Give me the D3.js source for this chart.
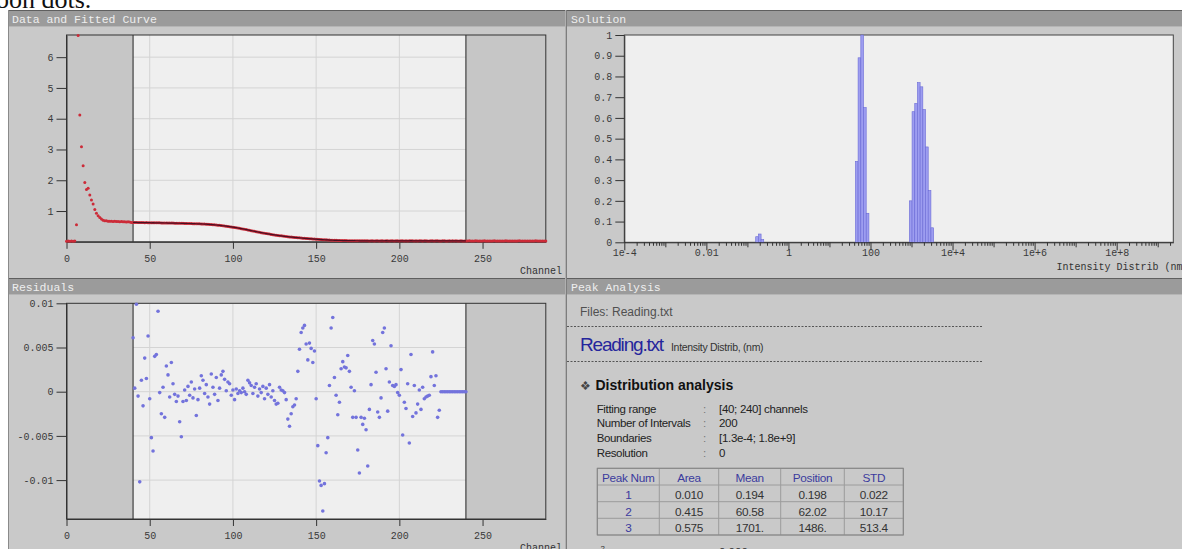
<!DOCTYPE html>
<html><head><meta charset="utf-8">
<script src="https://cdn.jsdelivr.net/npm/d3@7"></script>
<style>body{margin:0;background:#fff;overflow:hidden}svg{display:block}</style>
</head><body>
<svg id="c" width="1182" height="549"></svg>
<script>
// ---------------- DATA ----------------
// Intensity per channel 0..288 (Data and Fitted Curve)
const intensity = [
0.02,0.03,0.02,0.03,0.02,0.03,0.55,6.70,4.12,3.09,
2.47,1.93,1.70,1.74,1.52,1.36,1.23,1.05,0.93,0.85,
0.79,0.74,0.70,0.68,0.68,0.67,0.67,0.67,0.66,0.67,
0.66,0.66,0.65,0.66,0.65,0.65,0.64,0.65,0.64,0.63,
0.630,0.628,0.631,0.625,0.627,0.624,0.626,0.622,0.624,0.620,
0.621,0.618,0.620,0.617,0.618,0.615,0.616,0.613,0.614,0.611,
0.612,0.609,0.610,0.607,0.607,0.605,0.605,0.603,0.603,0.600,
0.600,0.598,0.597,0.595,0.594,0.592,0.590,0.589,0.587,0.585,
0.583,0.580,0.578,0.575,0.572,0.568,0.565,0.560,0.556,0.551,
0.546,0.540,0.534,0.528,0.522,0.515,0.508,0.500,0.492,0.484,
0.476,0.467,0.458,0.448,0.438,0.428,0.418,0.407,0.396,0.385,
0.374,0.363,0.352,0.341,0.330,0.319,0.308,0.298,0.288,0.278,
0.268,0.259,0.250,0.241,0.232,0.224,0.216,0.208,0.200,0.193,
0.186,0.179,0.173,0.166,0.160,0.154,0.149,0.143,0.138,0.133,
0.128,0.123,0.118,0.113,0.109,0.104,0.100,0.096,0.092,0.088,
0.084,0.080,0.076,0.073,0.069,0.066,0.063,0.060,0.057,0.054,
0.051,0.049,0.047,0.045,0.044,0.042,0.041,0.040,0.039,0.038,
0.037,0.036,0.036,0.035,0.034,0.034,0.033,0.033,0.032,0.032,
0.031,0.033,0.030,0.032,0.031,0.029,0.034,0.031,0.030,0.033,
0.031,0.030,0.035,0.032,0.029,0.031,0.033,0.030,0.032,0.031,
0.030,0.034,0.031,0.029,0.033,0.030,0.032,0.035,0.031,0.030,
0.032,0.029,0.031,0.034,0.030,0.031,0.033,0.030,0.029,0.032,
0.031,0.030,0.033,0.031,0.029,0.030,0.032,0.031,0.030,0.029,
0.031,0.030,0.032,0.029,0.031,0.030,0.029,0.031,0.030,0.030,
0.030,0.029,0.031,0.030,0.028,0.030,0.031,0.029,0.030,0.029,
0.030,0.031,0.029,0.030,0.028,0.030,0.029,0.031,0.030,0.029,
0.030,0.028,0.030,0.029,0.031,0.030,0.029,0.030,0.028,0.030,
0.029,0.030,0.031,0.029,0.030,0.028,0.030,0.029,0.030,0.029,
0.030,0.029,0.031,0.030,0.029,0.030,0.028,0.030,0.029];
const fitRange = [40, 240];
// Residuals for channels 40..240
const residualStart = 40;
const residuals = [
0.0061,0.0004,0.0099,-0.0005,-0.0102,0.0013,-0.0016,0.0038,0.0015,0.0063,
-0.0008,-0.0052,-0.0067,0.0040,0.0042,0.0091,-0.0001,-0.0025,0.0005,-0.0029,
0.0029,0.0019,-0.0006,0.0033,0.0009,-0.0003,-0.0011,-0.0005,-0.0034,-0.0051,
-0.0011,0.0002,-0.0010,0.0006,-0.0004,0.0011,-0.0007,0.0003,-0.0027,-0.0009,
0.0004,0.0018,0.0013,-0.0002,0.0008,-0.0006,-0.0014,0.0020,0.0005,-0.0003,
0.0016,-0.0010,0.0004,0.0019,0.0023,0.0014,0.0001,0.0011,0.0009,-0.0004,
0.0002,-0.0009,0.0003,-0.0002,0.0001,-0.0001,0.0004,0.0000,-0.0003,0.0013,
0.0010,0.0007,-0.0002,0.0005,0.0009,-0.0005,0.0003,-0.0001,0.0006,-0.0008,
0.0004,-0.0003,0.0008,-0.0006,0.0001,-0.0010,-0.0014,-0.0013,0.0005,0.0002,
0.0001,-0.0001,-0.0009,-0.0031,-0.0039,-0.0025,-0.0017,-0.0015,-0.0008,0.0023,
0.0048,0.0067,0.0072,0.0075,0.0054,0.0036,0.0055,0.0049,0.0033,0.0046,
-0.0008,-0.0061,-0.0101,-0.0106,-0.0135,-0.0104,-0.0069,-0.0052,0.0007,0.0072,
0.0084,0.0016,-0.0004,-0.0026,-0.0012,0.0026,0.0034,0.0028,0.0027,0.0041,
0.0023,0.0005,-0.0029,0.0001,-0.0029,-0.0066,-0.0092,-0.0029,-0.0037,-0.0030,
-0.0043,-0.0084,-0.0020,0.0008,0.0058,0.0054,0.0022,-0.0023,-0.0029,-0.0007,
0.0067,0.0072,0.0026,-0.0022,0.0011,0.0052,0.0007,0.0006,0.0008,-0.0001,
-0.0004,0.0025,-0.0049,-0.0012,-0.0019,0.0009,-0.0058,0.0042,-0.0028,0.0007,
-0.0024,-0.0014,0.0002,-0.0020,0.0005,-0.0008,-0.0006,-0.0005,-0.0004,0.0017,
0.0045,0.0007,0.0018,-0.0029,-0.0021,0,0,0,0,0,
0,0,0,0,0,0,0,0,0,0,
0];
// Solution (intensity distribution) bars: size (nm) and value
const solSize  = [0.172,0.200,0.232, 46.3,53.8,62.7,72.9,84.9, 955,1112,1294,1503,1750,2037,2366,2754,3206];
const solValue = [0.027,0.040,0.013, 0.39,0.89,1.00,0.65,0.14, 0.20,0.63,0.67,0.77,0.75,0.64,0.46,0.25,0.07];
const binLogWidth = 0.0657;

const channelTicks = [0,50,100,150,200,250];
const dataYTicks = [1,2,3,4,5,6];
const residYTicks = [0.01,0.005,0,-0.005,-0.01];
const residYLabels = ["0.01","0.005","0","-0.005","-0.01"];
const solYTicks = [0,0.1,0.2,0.3,0.4,0.5,0.6,0.7,0.8,0.9,1];
const solXTicks = [1e-4,1e-2,1,1e2,1e4,1e6,1e8];
const solXLabels = ["1e-4","0.01","1","100","1e+4","1e+6","1e+8"];

const paramLabels = ["Fitting range","Number of Intervals","Boundaries","Resolution"];
const paramValues = ["[40; 240] channels","200","[1.3e-4; 1.8e+9]","0"];
const tableHeader = ["Peak Num","Area","Mean","Position","STD"];
const peakNum = ["1","2","3"];
const peakArea = ["0.010","0.415","0.575"];
const peakMean = ["0.194","60.58","1701."];
const peakPosition = ["0.198","62.02","1486."];
const peakStd = ["0.022","10.17","513.4"];

// ---------------- DRAW ----------------
const svg = d3.select("#c");
const MONO = "'Liberation Mono','Courier New',monospace";
const SANS = "'Liberation Sans',Arial,sans-serif";
const PANEL = "#c9c9c9", LIGHT = "#efefef", SHADE = "#c6c6c6", GRID = "#d4d4d4";

svg.append("rect").attr("width",1182).attr("height",549).attr("fill","#fff");
svg.append("text").attr("x",-4).attr("y",8).attr("font-family","'Liberation Serif',serif")
  .attr("font-size",26).attr("fill","#111").text("oon dots.");

function panel(x,y,w,h,title){
  svg.append("rect").attr("x",x).attr("y",y).attr("width",w).attr("height",h).attr("fill",PANEL);
  svg.append("rect").attr("x",x).attr("y",y).attr("width",w).attr("height",16).attr("fill","#9b9b9b");
  svg.append("line").attr("x1",x).attr("x2",x+w).attr("y1",y+0.5).attr("y2",y+0.5).attr("stroke","#5f5f5f");
  svg.append("line").attr("x1",x).attr("x2",x+w).attr("y1",y+16.5).attr("y2",y+16.5).attr("stroke","#b5b5b5");
  svg.append("text").attr("x",x+4).attr("y",y+12.5).attr("font-family",MONO).attr("font-size",11.5)
    .attr("fill","#eeeeee").text(title);
}
panel(8,10,557,268,"Data and Fitted Curve");
panel(8,278,557,271,"Residuals");
panel(567,10,615,268,"Solution");
panel(567,278,615,271,"Peak Analysis");
svg.append("rect").attr("x",565).attr("y",10).attr("width",2).attr("height",539).attr("fill","#b0b0b0");
svg.append("line").attr("x1",566.5).attr("x2",566.5).attr("y1",10).attr("y2",549).attr("stroke","#7d7d7d");
svg.append("line").attr("x1",8.5).attr("x2",8.5).attr("y1",10).attr("y2",549).attr("stroke","#8a8a8a");

function styleAxis(g){
  g.attr("font-family",MONO).attr("font-size",10);
  g.selectAll("line").attr("stroke","#333");
  g.selectAll("text").attr("fill","#3a3a3a");
  g.select(".domain").attr("stroke","#333");
}

// ---- Data and fitted curve ----
const xC = d3.scaleLinear().domain([0,288]).range([66.5,545.8]);
const yD = d3.scaleLinear().domain([0,6.72]).range([241.8,35]);
function channelPlot(yScale, yTicks, yLabels, top, bottom){
  const g = svg.append("g");
  g.append("rect").attr("x",xC(0)).attr("y",top).attr("width",xC(288)-xC(0)).attr("height",bottom-top).attr("fill",SHADE);
  g.append("rect").attr("x",xC(fitRange[0])).attr("y",top).attr("width",xC(fitRange[1])-xC(fitRange[0])).attr("height",bottom-top).attr("fill",LIGHT);
  g.selectAll(".gx").data(channelTicks.filter(v=>v>fitRange[0]&&v<fitRange[1])).enter().append("line")
    .attr("x1",d=>xC(d)).attr("x2",d=>xC(d)).attr("y1",top).attr("y2",bottom).attr("stroke",GRID);
  g.selectAll(".gy").data(yTicks).enter().append("line")
    .attr("x1",xC(fitRange[0])).attr("x2",xC(fitRange[1])).attr("y1",d=>yScale(d)).attr("y2",d=>yScale(d)).attr("stroke",GRID);
  fitRange.forEach(v=>g.append("line").attr("x1",xC(v)).attr("x2",xC(v)).attr("y1",top).attr("y2",bottom).attr("stroke","#222"));
  g.append("rect").attr("x",xC(0)).attr("y",top).attr("width",xC(288)-xC(0)).attr("height",bottom-top)
    .attr("fill","none").attr("stroke","#333");
  const ax = svg.append("g").attr("transform",`translate(${xC(0)},0)`)
    .call(d3.axisLeft(yScale).tickValues(yTicks).tickSize(10).tickPadding(3).tickSizeOuter(0)
      .tickFormat((d,i)=>yLabels? yLabels[i] : d));
  styleAxis(ax);
  const bx = svg.append("g").attr("transform",`translate(0,${bottom})`)
    .call(d3.axisBottom(xC).tickValues(channelTicks).tickSize(7).tickPadding(6).tickSizeOuter(0));
  styleAxis(bx);
  return g;
}
channelPlot(yD, dataYTicks, null, 35, 241.8);
const dataG = svg.append("g");
dataG.selectAll("circle").data(intensity).enter().append("circle")
  .attr("cx",(d,i)=>xC(i)).attr("cy",d=>yD(d)).attr("r",1.5).attr("fill","#cc2b38");
const fitIdx = d3.range(fitRange[0], fitRange[1]+1);
dataG.append("path").datum(fitIdx).attr("fill","none").attr("stroke","#4a0f22").attr("stroke-width",1.2)
  .attr("d", d3.line().x(i=>xC(i)).y(i=>yD(intensity[i])));
svg.append("text").attr("x",562).attr("y",273.5).attr("text-anchor","end").attr("font-family",MONO)
  .attr("font-size",10).attr("fill","#333").text("Channel");

// ---- Residuals ----
const yR = d3.scaleLinear().domain([-0.0144,0.01]).range([519,303.3]);
channelPlot(yR, residYTicks, residYLabels, 303.3, 519);
svg.append("g").selectAll("circle").data(residuals).enter().append("circle")
  .attr("cx",(d,i)=>xC(residualStart+i)).attr("cy",d=>yR(d)).attr("r",1.8).attr("fill","#7373dc");
svg.append("text").attr("x",562).attr("y",551).attr("text-anchor","end").attr("font-family",MONO)
  .attr("font-size",10).attr("fill","#333").text("Channel");

// ---- Solution ----
const xS = d3.scaleLog().domain([1e-4,2.4e9]).range([624.3,1173.3]);
const yS = d3.scaleLinear().domain([0,1]).range([242.3,35]);
svg.append("rect").attr("x",xS.range()[0]).attr("y",35).attr("width",xS.range()[1]-xS.range()[0])
  .attr("height",242.3-35).attr("fill",LIGHT).attr("stroke","#444");
const half = Math.pow(10, binLogWidth/2);
svg.append("g").selectAll("rect").data(solSize).enter().append("rect")
  .attr("x",d=>xS(d/half)).attr("width",d=>xS(d*half)-xS(d/half))
  .attr("y",(d,i)=>yS(solValue[i])).attr("height",(d,i)=>yS(0)-yS(solValue[i]))
  .attr("fill","#9d9df0").attr("stroke","#6a6ad6").attr("stroke-width",0.6);
const sy = svg.append("g").attr("transform",`translate(${xS.range()[0]},0)`)
  .call(d3.axisLeft(yS).tickValues(solYTicks).tickSize(9).tickPadding(3).tickSizeOuter(0).tickFormat(d3.format("~g")));
styleAxis(sy);
const minor = [];
for (let k=-4;k<=9;k++) for (let m=1;m<=9;m++){ const v=m*Math.pow(10,k); if(v>=1e-4 && v<=2.4e9) minor.push(v); }
const labelSet = new Set(solXTicks.map(v=>Math.round(Math.log10(v))));
const sx = svg.append("g").attr("transform","translate(0,242.3)")
  .call(d3.axisBottom(xS).tickValues(minor).tickSize(3).tickPadding(12).tickSizeOuter(0)
    .tickFormat(v=>{const i=solXTicks.findIndex(t=>Math.abs(Math.log10(t)-Math.log10(v))<1e-6); return i>=0?solXLabels[i]:"";}));
styleAxis(sx);
sx.selectAll(".tick line").attr("y2",d=>{
  const lg=Math.log10(d), r=Math.round(lg);
  if (Math.abs(lg-r)<1e-6) return labelSet.has(r)?8:5;
  return 3.5;});
sx.selectAll(".tick text").attr("y",6.5);
svg.append("text").attr("x",1056.5).attr("y",270).attr("font-family",MONO).attr("font-size",10)
  .attr("fill","#333").text("Intensity Distrib (nm)");

// ---- Peak Analysis ----
const pa = svg.append("g").attr("font-family",SANS);
pa.append("text").attr("x",580).attr("y",315.5).attr("font-size",12).attr("fill","#505050").text("Files: Reading.txt");
[326.5,361.5].forEach(y=>pa.append("line").attr("x1",567).attr("x2",983).attr("y1",y).attr("y2",y)
  .attr("stroke","#555").attr("stroke-dasharray","2,1.5"));
pa.append("text").attr("x",580).attr("y",351).attr("font-size",19).attr("letter-spacing","-1.2")
  .attr("fill","#25259c").text("Reading.txt");
pa.append("text").attr("x",671).attr("y",351).attr("font-size",10.5).attr("letter-spacing","-0.3")
  .attr("fill","#333").text("Intensity Distrib, (nm)");
pa.append("text").attr("x",580).attr("y",390).attr("font-size",12).attr("fill","#444").text("\u2756");
pa.append("text").attr("x",595.5).attr("y",390).attr("font-size",14).attr("font-weight","bold")
  .attr("fill","#111").text("Distribution analysis");
const rowY = [412.7,427.3,442,456.7];
pa.selectAll(".pl").data(paramLabels).enter().append("text").attr("x",596.7).attr("y",(d,i)=>rowY[i])
  .attr("font-size",11.5).attr("letter-spacing","-0.35").attr("fill","#222").text(d=>d);
pa.selectAll(".pc").data(paramValues).enter().append("text").attr("x",703).attr("y",(d,i)=>rowY[i])
  .attr("font-size",11.5).attr("fill","#777").text(":");
pa.selectAll(".pv").data(paramValues).enter().append("text").attr("x",719).attr("y",(d,i)=>rowY[i])
  .attr("font-size",11.5).attr("letter-spacing","-0.3").attr("fill","#222").text(d=>d);
const colX = [597.3,659.3,718.7,780.7,844.3,903.3];
const rowE = [468.3,485,501.7,518.3,535];
colX.forEach(x=>pa.append("line").attr("x1",x).attr("x2",x).attr("y1",rowE[0]).attr("y2",rowE[4]).attr("stroke","#9c9c9c"));
rowE.forEach(y=>pa.append("line").attr("x1",colX[0]).attr("x2",colX[5]).attr("y1",y).attr("y2",y).attr("stroke","#9c9c9c"));
pa.append("rect").attr("x",colX[0]).attr("y",rowE[0]).attr("width",colX[5]-colX[0]).attr("height",rowE[4]-rowE[0])
  .attr("fill","none").attr("stroke","#858585");
const colMid = colX.slice(0,5).map((x,i)=>(x+colX[i+1])/2);
pa.selectAll(".th").data(tableHeader).enter().append("text").attr("x",(d,i)=>colMid[i]).attr("y",481.8)
  .attr("text-anchor","middle").attr("font-size",11.8).attr("letter-spacing","-0.3").attr("fill","#3b3b9e").text(d=>d);
const cols = [peakNum,peakArea,peakMean,peakPosition,peakStd];
const bodyY = [498.8,515.5,532.2];
cols.forEach((col,ci)=>{
  pa.selectAll(".c"+ci).data(col).enter().append("text").attr("x",colMid[ci]).attr("y",(d,i)=>bodyY[i])
    .attr("text-anchor","middle").attr("font-size",11.8).attr("letter-spacing","-0.3")
    .attr("fill",ci===0?"#3b3b9e":"#333").text(d=>d);
});
pa.append("text").attr("x",593).attr("y",558).attr("font-size",12).attr("fill","#333").text("\u03c7");
pa.append("text").attr("x",600.5).attr("y",551).attr("font-size",8).attr("fill","#333").text("2");
pa.append("text").attr("x",703).attr("y",555.5).attr("font-size",11.5).attr("fill","#777").text(":");
pa.append("text").attr("x",719).attr("y",555.5).attr("font-size",11.5).attr("fill","#333").text("0.000");
</script>
</body></html>
